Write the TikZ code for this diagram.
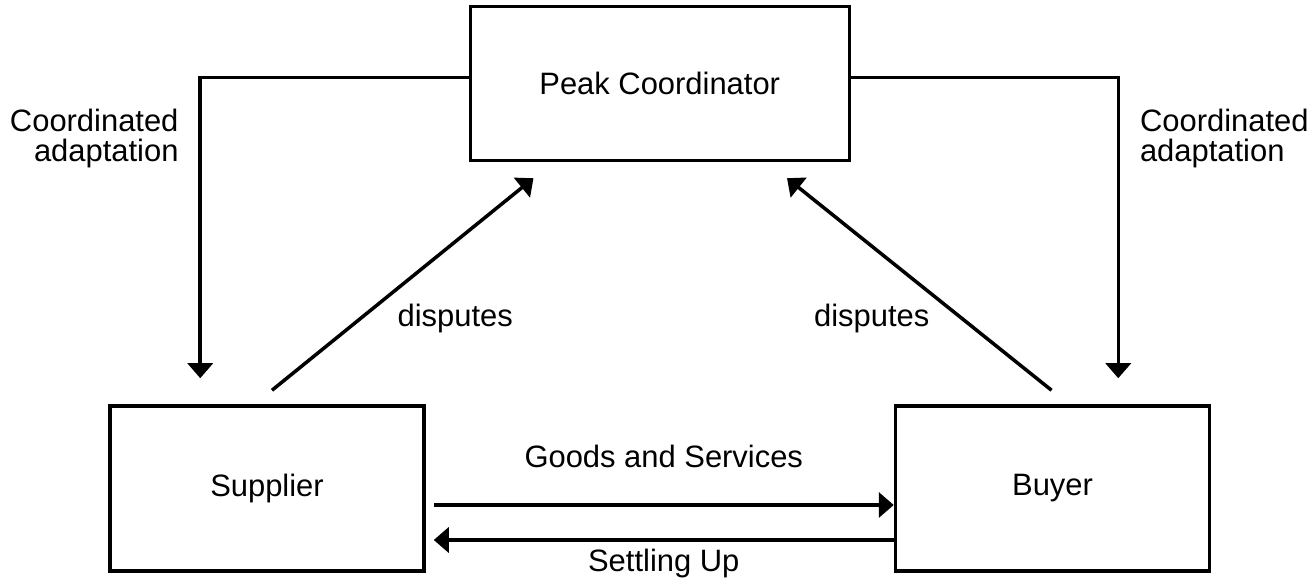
\documentclass[tikz,border=0pt]{standalone}
\usepackage{fontspec}
\setmainfont{Liberation Sans}
\usetikzlibrary{arrows.meta,positioning,calc}
\newcommand{\dfont}{\fontsize{17.6pt}{17pt}\selectfont}

\begin{document}
\begin{tikzpicture}[>={Triangle[length=3mm,width=5mm]},line width=2pt,s/.style={draw,minimum width=6.28cm,minimum height=3.3cm,font=\dfont},l/.style={inner sep=0pt,font=\dfont}]
 \useasboundingbox (-5.34,-1.87) rectangle (20.98,9.77);
 \node[s] (sup) at (0,0) {Supplier};
 \node[s,right=9.36cm of sup] (buy) {Buyer};
 \coordinate (top) at ($(sup.north)!.5!(buy.north)$);
 \node[s,minimum width=7.58cm,minimum height=3.08cm,above=4.84cm of top] (peak) {Peak Coordinator};
 % free ends of the connectors
 \coordinate (supin) at ([xshift=1.84cm,yshift=.52cm]sup.north west);
 \coordinate (buyin) at ([xshift=-1.86cm,yshift=.52cm]buy.north east);
 \coordinate (supout) at ([xshift=.1cm,yshift=.28cm]sup.north);
 \coordinate (buyout) at ([xshift=-.02cm,yshift=.28cm]buy.north);
 \coordinate (pkl) at ([xshift=1.3cm,yshift=-.32cm]peak.south west);
 \coordinate (pkr) at ([xshift=-1.28cm,yshift=-.32cm]peak.south east);
 \coordinate (gs) at ([xshift=.16cm,yshift=-.33cm]sup.east);
 \coordinate (su) at ([xshift=.16cm,yshift=-1.03cm]sup.east);
 \draw[->] ([yshift=.12cm]peak.west) -| node[l,pos=.55,anchor=north east,xshift=-.4cm,align=right]{Coordinated\\adaptation} (supin);
 \draw[->] ([yshift=.12cm]peak.east) -| node[l,pos=.55,anchor=north west,xshift=.4cm,align=left]{Coordinated\\adaptation} (buyin);
 \draw[->] (supout) -- node[l,xshift=1.05cm,yshift=-.68cm]{disputes} (pkl);
 \draw[->] (buyout) -- node[l,xshift=-.95cm,yshift=-.68cm]{disputes} (pkr);
 \draw[->] (gs) -- node[l,above=.7cm]{Goods and Services} (gs -| buy.west);
 \draw[->] (su -| buy.west) -- node[l,below=.14cm]{Settling Up} (su);
\end{tikzpicture}
\end{document}
